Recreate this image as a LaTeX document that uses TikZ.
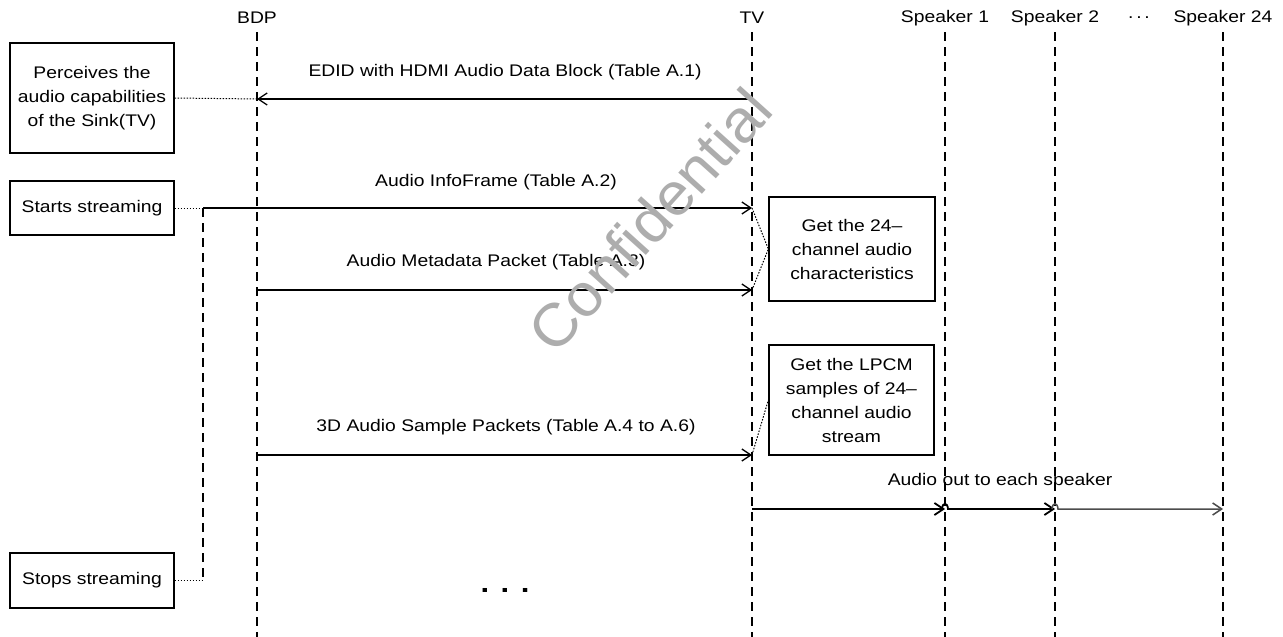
\documentclass[tikz,border=0pt]{standalone}
\usepackage{fontspec}
\setmainfont{Liberation Sans}[FakeStretch=1.15]
\newfontfamily\wmfont{Liberation Sans}[FakeStretch=1.04]
\usetikzlibrary{arrows.meta}
\begin{document}
\begin{tikzpicture}[x=1pt,y=-1pt,
  font=\fontsize{16.8}{24}\selectfont,
  life/.style={line width=2pt, dash pattern=on 9pt off 6pt},
  msg/.style={line width=1.3pt, -{Straight Barb[length=9pt,width=12pt]}},
  outarr/.style={line width=1.8pt, -{Straight Barb[length=9pt,width=12pt]}},
  notel/.style={line width=1pt, dash pattern=on 1.5pt off 1.5pt},
  box/.style={draw, line width=1.3pt, align=center, inner sep=0pt},
  head/.style={anchor=center},
  lbl/.style={anchor=center}]
\useasboundingbox[fill=white] (0,0) rectangle (1283,637);

% heads
\node[head] (bdp) at (257,18) {BDP};
\node[head] (tv) at (752,18) {TV};
\node[head] (sp1) at (945,18) {Speaker 1};
\node[head] (sp2) at (1055,18) {Speaker 2};
\node[head] (spd) at (1139,18) {.\,.\,.};
\node[head] (spn) at (1223,18) {Speaker 24};

% lifelines
\foreach \n in {bdp,tv,sp1,sp2,spn}{
  \draw[life] (\n |- 0,32) -- (\n |- 0,637);
}

% boxes
\node[box, minimum width=164pt, minimum height=110pt] (perc) at (92,98)
  {Perceives the\\audio capabilities\\of the Sink(TV)};
\node[box, minimum width=164pt, minimum height=54pt] (start) at (92,208) {Starts streaming};
\node[box, minimum width=164pt, minimum height=55pt] (stop) at (92,580.5) {Stops streaming};
\node[box, minimum width=166pt, minimum height=104pt] (g24) at (852,249)
  {Get the 24–\\channel audio\\characteristics};
\node[box, minimum width=165pt, minimum height=110pt] (lpcm) at (851.5,400)
  {Get the LPCM\\samples of 24–\\channel audio\\stream};

% EDID
\coordinate (e1) at (tv |- 0,99);
\coordinate (e2) at (bdp |- 0,99);
\draw[msg] (e1) -- (e2);
\node[lbl] (edidl) at (505,72) {EDID with HDMI Audio Data Block (Table A.1)};
\draw[notel] (perc.east) -- (e2);

% Audio InfoFrame
\coordinate (sv) at (203,208);
\coordinate (i2) at (tv |- sv);
\draw[notel] (start.east) -- (sv);
\draw[msg] (sv) -- (i2);
\node[lbl] (infol) at (496,182) {Audio InfoFrame (Table A.2)};
\coordinate (sv2) at (sv |- stop.east);
\draw[life] (sv) -- (sv2);
\draw[notel] (stop.east) -- (sv2);

% Audio Metadata
\coordinate (m1) at (bdp |- 0,290);
\coordinate (m2) at (tv |- 0,290);
\draw[msg] (m1) -- (m2);
\node[lbl] (metal) at (496,262) {Audio Metadata Packet (Table A.3)};
\draw[notel] (i2) -- (g24.west) -- (m2);

% 3D audio
\coordinate (s1) at (bdp |- 0,455);
\coordinate (s2) at (tv |- 0,455);
\draw[msg] (s1) -- (s2);
\node[lbl] (sampl) at (506,427) {3D Audio Sample Packets (Table A.4 to A.6)};
\draw[notel] (s2) -- (lpcm.west);

% audio out
\coordinate (o0) at (tv |- 0,509);
\coordinate (o1) at (sp1 |- 0,509);
\coordinate (o2) at (sp2 |- 0,509);
\coordinate (o3) at (spn |- 0,509);
\node[lbl] (outl) at (1000,481) {Audio out to each speaker};
\draw[outarr] (o0) -- (o1);
\draw[outarr] ([xshift=-3pt]o1) .. controls +(0.5,-7) and +(-0.5,-7) .. ([xshift=3pt]o1) -- (o2);
\draw[outarr, draw=black!70, line width=1.5pt] ([xshift=-3pt]o2) .. controls +(0.5,-7) and +(-0.5,-7) .. ([xshift=3pt]o2) -- (o3);

% dots
\node[anchor=base] (dots) at (505,592) {\fontsize{27}{27}\selectfont\bfseries . . .};

% watermark
\node[rotate=48, text=black!32, font=\wmfont\fontsize{60}{60}\selectfont] (wm) at (650,220) {Confidential};
\end{tikzpicture}
\end{document}
